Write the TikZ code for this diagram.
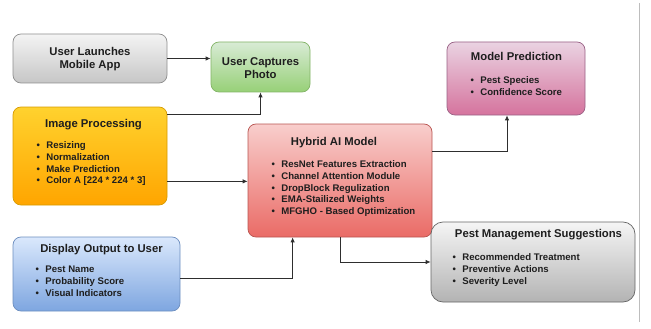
\documentclass[tikz,border=0pt]{standalone}
\usepackage{fontspec}
\setmainfont{Liberation Sans}
\usetikzlibrary{arrows.meta,calc}

\definecolor{ink}{HTML}{1E1E1E}
\definecolor{linec}{HTML}{2E2E2E}
\definecolor{rulec}{HTML}{BDBDBD}
% fills and borders of the boxes
\definecolor{grayT}{HTML}{F4F4F4}\definecolor{grayB}{HTML}{C6C6C6}\definecolor{grayD}{HTML}{8E8E8E}
\definecolor{grnT}{HTML}{D8EBD5}\definecolor{grnB}{HTML}{97D077}\definecolor{grnD}{HTML}{82B366}
\definecolor{orT}{HTML}{FFD22E}\definecolor{orB}{HTML}{FFA500}\definecolor{orD}{HTML}{D79B00}
\definecolor{bluT}{HTML}{DAE8FC}\definecolor{bluB}{HTML}{7EA6E0}\definecolor{bluD}{HTML}{6C8EBF}
\definecolor{redT}{HTML}{F8CECC}\definecolor{redB}{HTML}{EA6B66}\definecolor{redD}{HTML}{B85450}
\definecolor{pnkT}{HTML}{EAD3E2}\definecolor{pnkB}{HTML}{D5739D}\definecolor{pnkD}{HTML}{996185}
\definecolor{pmT}{HTML}{F5F5F5}\definecolor{pmB}{HTML}{B3B3B3}\definecolor{pmD}{HTML}{666666}

\tikzset{
  box/.style={draw, rounded corners=8pt, line width=0.7pt, inner sep=0pt},
  ttl/.style={font=\bfseries\fontsize{11.3}{13.2}\selectfont, text=ink, inner sep=0pt, align=center},
  lst/.style={font=\bfseries\fontsize{9.6}{11.8}\selectfont, text=ink, inner sep=0pt, anchor=base west},
  link/.style={draw=linec, line width=0.8pt},
  arr/.style={link, -{Latex[length=5pt,width=4.5pt]}},
}

% bullet list: first row sits on the node's baseline
\newcommand{\bulletrows}[1]{\begin{tabular}[t]{@{}c@{\hspace{6.5pt}}l@{}}#1\end{tabular}}

\begin{document}
\begin{tikzpicture}[x=1pt,y=-1pt]
\useasboundingbox (0,0) rectangle (651,329);

% page margin rule
\draw[rulec, line width=0.8pt] (639,3) -- (639,322);

% boxes
\node[box, draw=grayD, top color=grayT, bottom color=grayB, minimum width=154pt, minimum height=49pt] (app) at (90,58.5) {};
\node[box, draw=grnD, top color=grnT, bottom color=grnB, minimum width=99pt, minimum height=50pt] (cap) at (260.5,67) {};
\node[box, draw=orD, top color=orT, bottom color=orB, minimum width=154pt, minimum height=98pt] (ip) at (90,156) {};
\node[box, draw=bluD, top color=bluT, bottom color=bluB, minimum width=167pt, minimum height=74pt] (disp) at (96.5,274) {};
\node[box, draw=redD, top color=redT, bottom color=redB, minimum width=184pt, minimum height=113pt] (hyb) at (340,180.5) {};
\node[box, draw=pnkD, top color=pnkT, bottom color=pnkB, minimum width=138pt, minimum height=73pt] (mp) at (516,78.5) {};
\node[box, draw=pmD, top color=pmT, bottom color=pmB, rounded corners=12pt, minimum width=204pt, minimum height=80pt] (pm) at (533,262) {};

% titles
\node[ttl] (app-t) at (90,59) {User Launches\\Mobile App};
\node[ttl] (cap-t) at (260.5,68) {User Captures\\Photo};
\node[ttl, anchor=base] (ip-t) at (93.5,128) {Image Processing};
\node[ttl, anchor=base] (disp-t) at (101.5,252) {Display Output to User};
\node[ttl, anchor=base] (hyb-t) at (334,146) {Hybrid AI Model};
\node[ttl, anchor=base] (mp-t) at (516.5,61) {Model Prediction};
\node[ttl, anchor=base] (pm-t) at (538.5,237) {Pest Management Suggestions};

% bullet lists
\node[lst] (ip-l) at (36.3,148.5) {\bulletrows{
  \textbullet & Resizing\\ \textbullet & Normalization\\
  \textbullet & Make Prediction\\ \textbullet & Color A [224 * 224 * 3]}};
\node[lst] (disp-l) at (35.3,272.5) {\bulletrows{
  \textbullet & Pest Name\\ \textbullet & Probability Score\\
  \textbullet & Visual Indicators}};
\node[lst] (hyb-l) at (271.3,167.5) {\bulletrows{
  \textbullet & ResNet Features Extraction\\ \textbullet & Channel Attention Module\\
  \textbullet & DropBlock Regulization\\ \textbullet & EMA-Stailized Weights\\
  \textbullet & MFGHO - Based Optimization}};
\node[lst] (mp-l) at (470.3,83.5) {\bulletrows{
  \textbullet & Pest Species\\ \textbullet & Confidence Score}};
\node[lst] (pm-l) at (452.3,260.5) {\bulletrows{
  \textbullet & Recommended Treatment\\ \textbullet & Preventive Actions\\
  \textbullet & Severity Level}};

% connectors
\draw[arr] (app.east) -- (app.east -| cap.west);
\coordinate (ipA) at ($(ip.north east)+(0,8)$);
\draw[arr] (ipA) -| (cap.south);
\coordinate (ipB) at ($(ip.south east)+(0,-24)$);
\draw[arr] (ipB) -- (ipB -| hyb.west);
\coordinate (dispA) at ($(disp.east)+(0,4)$);
\coordinate (hybS) at ($(hyb.south west)+(45,0)$);
\draw[arr] (dispA) -| (hybS);
\coordinate (hybE) at ($(hyb.north east)+(0,28)$);
\coordinate (mpS) at ($(mp.south)+(-9,0)$);
\draw[arr] (hybE) -| (mpS);
\draw[arr] (hyb.south) |- (pm.west);
\end{tikzpicture}
\end{document}
